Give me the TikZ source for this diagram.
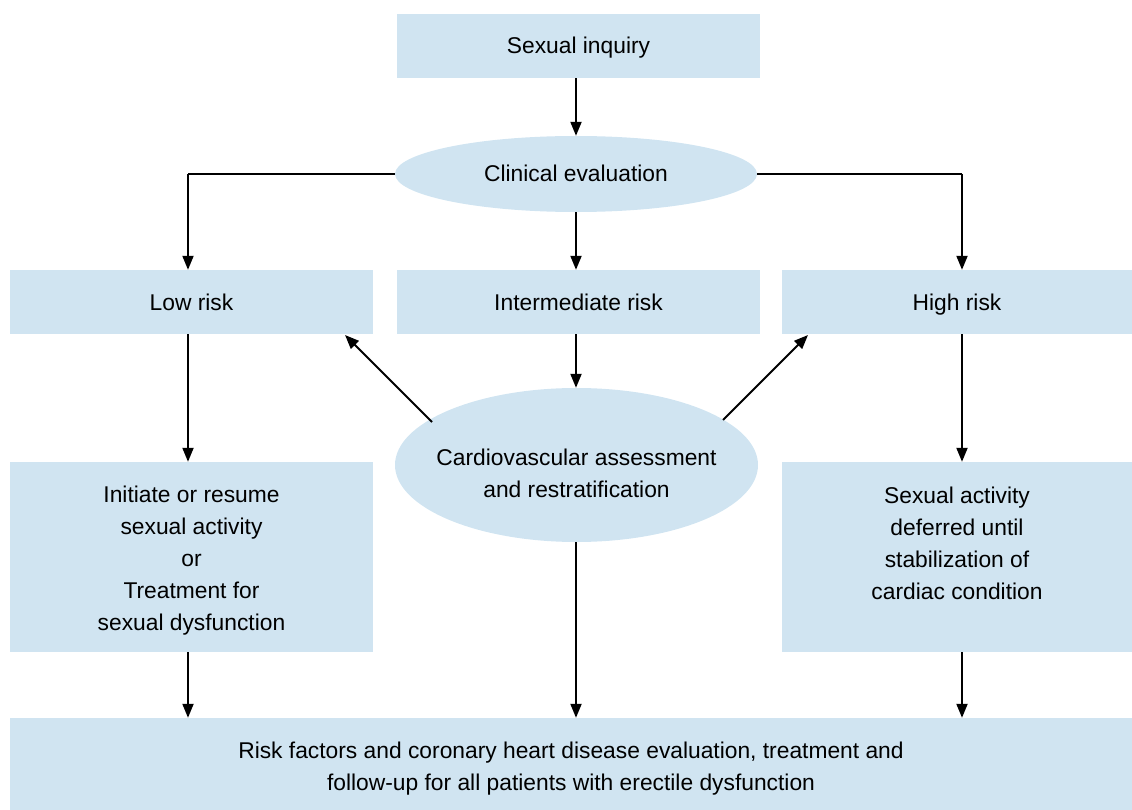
\documentclass[tikz,border=0pt]{standalone}
\usepackage{fontspec}
\setmainfont{Liberation Sans}
\usetikzlibrary{shapes.geometric,arrows.meta}
\definecolor{boxblue}{RGB}{208,228,241}
\begin{document}
\begin{tikzpicture}[x=1pt,y=-1pt,
  font=\fontsize{22.8}{32}\selectfont,
  box/.style={fill=boxblue,draw=none,inner sep=0pt,align=center},
  one/.style={text height=20pt,text depth=4pt},
  oval/.style={ellipse,fill=boxblue,draw=none,inner sep=0pt,align=center},
  arr/.style={line width=2pt,-{Triangle[length=14pt,width=11pt]}},
  ln/.style={line width=2pt}]
\useasboundingbox (0,0) rectangle (1132,810);
\node[box,one,minimum width=363pt,minimum height=64pt] (si) at (578.5,46) {Sexual inquiry};
\node[oval,one,minimum width=362pt,minimum height=76pt] (ce) at (576,174) {Clinical evaluation};
\node[box,one,minimum width=363pt,minimum height=64pt] (lr) at (191.5,302) {Low risk};
\node[box,one,minimum width=363pt,minimum height=64pt] (ir) at (578.5,302) {Intermediate risk};
\node[box,one,minimum width=350pt,minimum height=64pt] (hr) at (957,302) {High risk};
\node[oval,text height=64.3pt,inner xsep=-50pt,inner ysep=-40pt,minimum width=363pt,minimum height=154pt] (cv) at (576.5,465) {Cardiovascular assessment\\and restratification};
\node[box,text height=151.7pt,minimum width=363pt,minimum height=190pt] (ini) at (191.5,557) {Initiate or resume\\sexual activity\\or\\Treatment for\\sexual dysfunction};
\node[box,text height=148.3pt,minimum width=350pt,minimum height=190pt] (def) at (957,557) {Sexual activity\\deferred until\\stabilization of\\cardiac condition\\\mbox{}};
\node[box,text height=58.3pt,minimum width=1122pt,minimum height=92pt] (rf) at (571,764) {Risk factors and coronary heart disease evaluation, treatment and\\follow-up for all patients with erectile dysfunction};
\coordinate (cl) at (188,174);
\coordinate (cr) at (962,174);
\coordinate (ul) at (432,422);
\coordinate (ur) at (723,420);
\draw[arr] (si.south -| 576,0) -- (ce.north);
\draw[ln] (ce.west) -- (cl);
\draw[arr] (cl) -- (lr.north -| cl);
\draw[ln] (ce.east) -- (cr);
\draw[arr] (cr) -- (hr.north -| cr);
\draw[arr] (ce.south) -- (ir.north -| ce.south);
\draw[arr] (ir.south -| 576,0) -- (cv.north -| 576,0);
\draw[arr] (ul) -- (345,335);
\draw[arr] (ur) -- (808,335);
\draw[arr] (lr.south -| cl) -- (ini.north -| cl);
\draw[arr] (hr.south -| cr) -- (def.north -| cr);
\draw[arr] (ini.south -| cl) -- (rf.north -| cl);
\draw[arr] (cv.south -| 576,0) -- (rf.north -| 576,0);
\draw[arr] (def.south -| cr) -- (rf.north -| cr);
\end{tikzpicture}
\end{document}
